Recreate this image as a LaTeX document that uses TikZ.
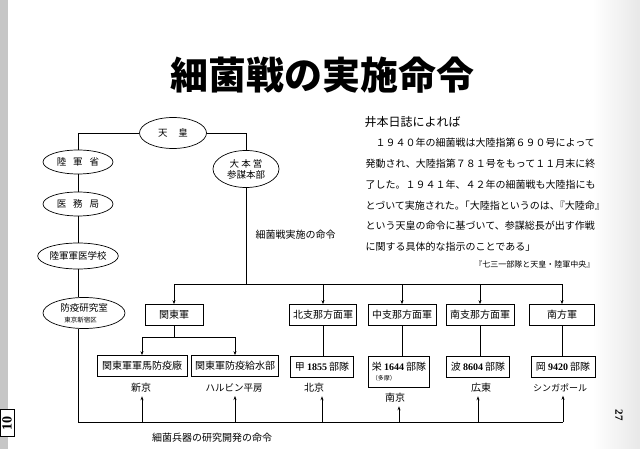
\documentclass[tikz,border=0pt]{standalone}
\usepackage{fontspec}
\setmainfont{Noto Sans CJK JP}
\newfontfamily\numfont{Liberation Serif}
\usetikzlibrary{shapes.geometric,arrows.meta}
\newcommand\wgap{\hspace{7pt}}

\begin{document}
\begin{tikzpicture}[x=1pt,y=-1pt,
  line width=0.7pt,
  oval/.style={draw, ellipse, inner sep=0pt, font=\fontsize{9.5}{11}\selectfont},
  unit/.style={draw, rectangle, inner sep=2pt, minimum height=21pt,
    font=\fontsize{10}{12}\selectfont},
  place/.style={font=\fontsize{10}{12}\selectfont},
  order/.style={-{Stealth[length=4pt,width=3pt]}}
  ]
  \useasboundingbox (0,0) rectangle (640,449);
  % page edges
  \fill[gray!45] (0,0) rectangle (8,449);
  \fill[left color=white, right color=gray!18] (592,0) rectangle (640,449);
  \node[draw, fill=white, rotate=90, inner sep=1pt, minimum width=27pt, minimum height=14pt,
    font=\numfont\bfseries\fontsize{14}{14}\selectfont] (tab) at (7,423) {10};
  \node[rotate=-90, font=\numfont\bfseries\fontsize{11}{13}\selectfont] (pagenum) at (619,415) {27};

  \node[font=\bfseries\fontsize{38}{40}\selectfont] (title) at (322,75) {細菌戦の実施命令};

  % left column and the emperor
  \node[oval, minimum width=67pt, minimum height=31pt] (tenno) at (173,133) {天\hspace{11pt}皇};
  \node[oval, minimum width=70pt, minimum height=24pt] (rikugunsho) at (78,162) {陸\wgap 軍\wgap 省};
  \node[oval, minimum width=70pt, minimum height=24pt] (imukyoku) at (78,204) {医\wgap 務\wgap 局};
  \node[oval, minimum width=72pt, minimum height=26pt] (gunigakko) at (78,256) {陸軍軍医学校};
  \node[oval, minimum width=82pt, minimum height=31pt, align=left] (boeki) at (84,313)
    {防疫研究室\\\hspace{4pt}{\fontsize{6.5}{7}\selectfont 東京新宿区}};
  \node[oval, minimum width=66pt, minimum height=37pt, align=center] (daihonei) at (246,169)
    {大 本 営\\参謀本部};

  \draw (tenno.west) -| (rikugunsho.north);
  \draw (tenno.east) -| (daihonei.north);
  \draw (rikugunsho) -- (imukyoku);
  \draw (imukyoku) -- (gunigakko);
  \draw (gunigakko.south) -- (gunigakko.south |- boeki.north);

  % armies
  \node[unit, minimum width=58pt] (kanto) at (174,315) {関東軍};
  \node[unit, minimum width=67pt] (hokushi) at (323,315) {北支那方面軍};
  \node[unit, minimum width=68pt] (chushi) at (402,315) {中支那方面軍};
  \node[unit, minimum width=68pt] (nanshi) at (480,315) {南支那方面軍};
  \node[unit, minimum width=65pt] (nampo) at (562,315) {南方軍};

  % units
  \node[unit, minimum width=90pt] (bagun) at (142,366) {関東軍軍馬防疫廠};
  \node[unit, minimum width=87pt] (kyusui) at (235,366) {関東軍防疫給水部};
  \node[unit, minimum width=63pt] (ko) at (322,367) {甲 {\numfont\bfseries 1855} 部隊};
  \node[unit, minimum width=61pt, minimum height=31pt, align=left] (ei) at (399,372)
    {栄 {\numfont\bfseries 1644} 部隊\\[-2pt]{\fontsize{6}{7}\selectfont （多摩）}};
  \node[unit, minimum width=63pt] (ha) at (478,367) {波 {\numfont\bfseries 8604} 部隊};
  \node[unit, minimum width=64pt] (oka) at (563,367) {岡 {\numfont\bfseries 9420} 部隊};

  \node[place] (shinkyo) at (141,388) {新京};
  \node[place, font=\fontsize{9.5}{11}\selectfont] (harbin) at (234,388) {ハルビン平房};
  \node[place] (beijing) at (314,388) {北京};
  \node[place] (nanjing) at (395,398) {南京};
  \node[place] (canton) at (481,388) {広東};
  \node[place, font=\fontsize{9}{11}\selectfont] (singapore) at (560,388) {シンガポール};

  % order of operations
  \coordinate (cmdbus) at (0,284);
  \draw (daihonei.south) -- (daihonei.south |- cmdbus);
  \draw (kanto |- cmdbus) -- (nampo |- cmdbus);
  \foreach \a in {kanto,hokushi,chushi,nanshi,nampo}
    \draw[order] (\a |- cmdbus) -- (\a.north);
  \node[place, anchor=west] (cmdlbl) at (252,235) {細菌戦実施の命令};

  \path (kanto.south) ++(0,11) coordinate (kantobr);
  \draw (kanto.south) -- (kantobr);
  \draw[order] (kantobr) -| (bagun.north);
  \draw[order] (kantobr) -| (kyusui.north);
  \foreach \a/\b in {hokushi/ko,chushi/ei,nanshi/ha,nampo/oka}
    \draw (\a.south) -- (\a.south |- \b.north);

  % order of research
  \coordinate (devbus) at (0,422);
  \draw (rikugunsho.south |- boeki.south) |- (oka |- devbus);
  \foreach \u/\p in {bagun/shinkyo,kyusui/harbin,ko/beijing,ei/nanjing,ha/canton,oka/singapore}
    \draw[order] (\u |- devbus) -- (\u |- \p.south);
  \node[place] (devlbl) at (212,438) {細菌兵器の研究開発の命令};

  % diary
  \node[anchor=west, font=\fontsize{12}{14}\selectfont] (diary) at (361,122) {井本日誌によれば};
  \foreach \txt [count=\i] in {
    {　１９４０年の細菌戦は大陸指第６９０号によって},
    {発動され、大陸指第７８１号をもって１１月末に終},
    {了した。１９４１年、４２年の細菌戦も大陸指にも},
    {とづいて実施された。\kern-5pt「大陸指というのは、\kern-5pt『大陸命』},
    {という天皇の命令に基づいて、参謀総長が出す作戦},
    {に関する具体的な指示のことである」}}
    \node[anchor=base west, font=\fontsize{10}{12}\selectfont] (line\i) at (362,126+20.8*\i) {\txt};
  \node[anchor=east, font=\fontsize{8}{10}\selectfont] (source) at (598,264) {『七三一部隊と天皇・陸軍中央』};
\end{tikzpicture}
\end{document}
